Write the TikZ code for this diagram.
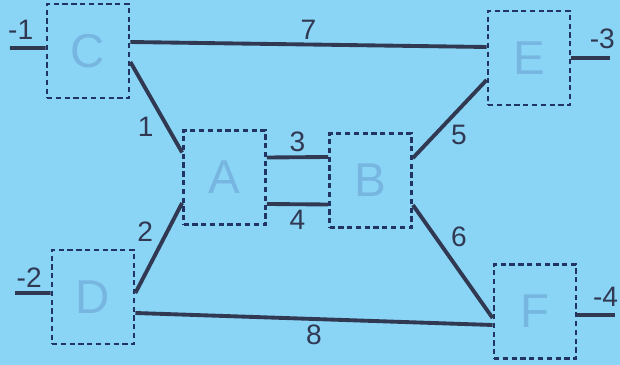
\documentclass[tikz,border=0pt]{standalone}
\usepackage{fontspec}
\setmainfont{Liberation Sans}
\usetikzlibrary{positioning}

\definecolor{slidebg}{RGB}{138,212,245}
\definecolor{boxletter}{RGB}{118,182,224}
\definecolor{wire}{RGB}{48,56,82}
\definecolor{frame}{RGB}{34,52,98}

\begin{document}
\begin{tikzpicture}[
    block/.style={
        draw=frame, line width=1.6pt, dash pattern=on 3pt off 2pt,
        minimum width=1.64cm, minimum height=1.88cm,
        text=boxletter, font=\fontsize{27}{29}\selectfont
    },
    wire/.style={draw=wire, line width=2.2pt},
    lab/.style={text=wire, font=\fontsize{16}{18}\selectfont, inner sep=2pt}
]

% Background
\fill[slidebg] (0,0) rectangle (12.4,7.3);
\useasboundingbox (0,0) rectangle (12.4,7.3);

% -------------------------
% Blocks
% -------------------------
\node[block] (C) at (1.76, 6.28) {C};
\node[block] (E) at (10.58, 6.14) {E};
\node[block] (A) at (4.49, 3.75) {A};
\node[block] (B) at (7.41, 3.69) {B};
\node[block] (D) at (1.86, 1.36) {D};
\node[block] (F) at (10.70, 1.07) {F};

% free ends
\coordinate (in1) at (0.20, 6.34);
\coordinate (in2) at (0.30, 1.44);
\coordinate (out3) at (12.20, 6.14);
\coordinate (out4) at (12.30, 1.00);

% -------------------------
% Connections
% -------------------------

% terminals
\draw[wire] (in1) -- ([yshift=0.06cm]C.west) node[lab, pos=0.3, above=2pt] {-1};
\draw[wire] (in2) -- ([yshift=0.08cm]D.west) node[lab, pos=0.4, above] {-2};
\draw[wire] (E.east) -- (out3) node[lab, pos=0.8, above=2pt] {-3};
\draw[wire] ([yshift=-0.07cm]F.east) -- (out4) node[lab, pos=0.75, above=2pt] {-4};

% C -> E, D -> F
\draw[wire] ([yshift=0.18cm]C.east) -- ([yshift=0.22cm]E.west)
    node[lab, midway, above] {7};
\draw[wire] ([yshift=-0.32cm]D.east) -- ([yshift=-0.27cm]F.west)
    node[lab, midway, below] {8};

% C, D -> A
\draw[wire] ([yshift=-0.22cm]C.east) -- ([yshift=0.5cm]A.west)
    node[lab, pos=0.72, left=5pt] {1};
\draw[wire] ([yshift=0.08cm]D.east) -- ([yshift=-0.51cm]A.west)
    node[lab, pos=0.68, left=5pt] {2};

% A -> B
\draw[wire] ([yshift=0.4cm]A.east) -- ([yshift=0.47cm]B.west)
    node[lab, midway, above] {3};
\draw[wire] ([yshift=-0.53cm]A.east) -- ([yshift=-0.48cm]B.west)
    node[lab, midway, below] {4};

% B -> E, F
\draw[wire] ([yshift=0.45cm]B.east) -- ([yshift=-0.44cm]E.west)
    node[lab, pos=0.3, right=6pt] {5};
\draw[wire] ([yshift=-0.49cm]B.east) -- ([yshift=-0.13cm]F.west)
    node[lab, pos=0.28, right=6pt] {6};

\end{tikzpicture}
\end{document}
